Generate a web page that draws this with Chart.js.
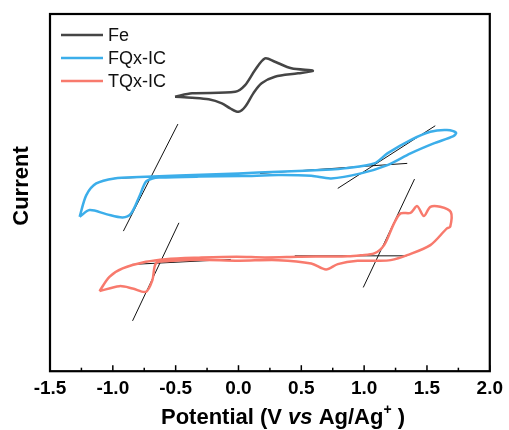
<!DOCTYPE html>
<html>
<head>
<meta charset="utf-8">
<script src="https://cdn.jsdelivr.net/npm/chart.js@4.4.1/dist/chart.umd.min.js"></script>
<style>
  html, body { margin: 0; padding: 0; background: #fff; }
  #wrap { width: 509px; height: 430px; position: relative; }
</style>
</head>
<body>
<div id="wrap"><canvas id="cv"></canvas></div>
<script>
const seriesNames = ['Fe', 'FQx-IC', 'TQx-IC'];
const seriesColors = ['#454545', '#3caeea', '#f87a6d'];

// x tick labels (V vs Ag/Ag+), every 0.5 with minor ticks in between
const xTickMin = -1.5;
const xTickMax = 2.0;
const xTickStep = 0.25;

// Fe (ferrocene) loop, current in arbitrary units
const feX = [-0.505, -0.369, -0.026, 0.053, 0.132, 0.211, 0.29, 0.421, 0.592,
             0.474, 0.29, 0.184, 0.118, 0.053, 0.0, -0.066, -0.132, -0.237, -0.369, -0.505];
const feY = [27.43, 27.77, 27.93, 28.6, 30.1, 31.27, 30.93, 30.27, 30.03,
             29.77, 29.43, 28.77, 27.77, 26.43, 25.93, 26.27, 26.77, 27.17, 27.33, 27.43];

// FQx-IC loop
const fqxX = [-1.264, -1.211, -1.132, -0.987, -0.79, -0.474, 0.0, 0.316, 0.735, 0.843, 1.08, 1.185, 1.369, 1.527, 1.659, 1.732,
              1.711, 1.554, 1.369, 1.185, 0.974, 0.737, 0.579, 0.316, 0.024, -0.316, -0.632, -0.685, -0.737, -0.79, -0.855, -0.922, -1.053, -1.185, -1.264];
const fqxY = [15.43, 17.6, 18.77, 19.27, 19.4, 19.55, 19.77, 19.93, 20.15, 20.27, 20.77, 21.77, 23.1, 23.93, 24.1, 23.83,
              23.5, 22.77, 21.77, 20.6, 19.77, 19.27, 19.53, 19.6, 19.5, 19.45, 19.35, 19.25, 18.93, 17.43, 15.77, 15.37, 15.7, 16.1, 15.43];

// TQx-IC loop
const tqxX = [-1.106, -1.027, -0.922, -0.737, -0.579, -0.316, -0.016, 0.211, 0.474, 0.869, 0.974, 1.08, 1.159, 1.238, 1.29, 1.369, 1.422, 1.475, 1.527, 1.606, 1.69,
              1.685, 1.659, 1.527, 1.343, 1.211, 1.106, 0.948, 0.79, 0.697, 0.579, 0.316, 0.0, -0.316, -0.579, -0.658, -0.685, -0.737, -0.843, -0.948, -1.106];
const tqxY = [8.0, 9.43, 10.27, 10.93, 11.2, 11.35, 11.45, 11.37, 11.43, 11.5, 11.6, 11.77, 12.6, 14.77, 15.77, 15.83, 16.5, 15.5, 16.43, 16.43, 15.9,
              14.43, 14.27, 12.6, 11.6, 11.1, 11.03, 11.03, 10.7, 10.17, 10.77, 11.1, 11.05, 11.15, 11.0, 10.77, 9.1, 7.93, 8.27, 8.5, 8.0];

// onset tangent lines, each [start, end]
const fqxFitX = [[-0.916, -0.482], [-0.993, 0.045], [0.171, 1.343], [0.79, 1.566]];
const fqxFitY = [[14.0, 24.7], [19.27, 19.77], [19.77, 20.77], [18.27, 24.53]];
const tqxFitX = [[-0.843, -0.474], [-0.848, -0.061], [0.448, 1.337], [0.993, 1.401]];
const tqxFitY = [[5.03, 14.83], [10.67, 11.17], [11.53, 11.53], [8.37, 19.2]];

const yMin = 0;
const yMax = 35.7;

function toPoints(xs, ys) {
    return xs.map((x, i) => ({ x: x, y: ys[i] }));
}

const datasets = [];
[[feX, feY], [fqxX, fqxY], [tqxX, tqxY]].forEach(([xs, ys], i) => {
    datasets.push({
        label: seriesNames[i],
        data: toPoints(xs, ys),
        borderColor: seriesColors[i],
        borderWidth: 2.5,
        pointRadius: 0,
        tension: 0.3,
        fill: false
    });
});

[[fqxFitX, fqxFitY], [tqxFitX, tqxFitY]].forEach(([xs, ys]) => {
    xs.forEach((seg, j) => {
        datasets.push({
            label: 'fit',
            data: toPoints(seg, ys[j]),
            borderColor: '#111',
            borderWidth: 1,
            pointRadius: 0,
            tension: 0
        });
    });
});

// frame, inward ticks, legend and axis titles
const decorations = {
    id: 'decorations',
    afterDraw(chart) {
        const { ctx, chartArea: a } = chart;
        const xs = chart.scales.x;
        ctx.save();

        ctx.strokeStyle = '#000';
        ctx.lineWidth = 1.5;
        xs.ticks.forEach(t => {
            const px = xs.getPixelForValue(t.value);
            const major = Math.abs(t.value * 2 - Math.round(t.value * 2)) < 1e-6;
            const len = major ? 6 : 3.5;
            ctx.beginPath();
            ctx.moveTo(px, a.bottom);
            ctx.lineTo(px, a.bottom - len);
            ctx.stroke();
        });

        ctx.lineWidth = 2.2;
        ctx.strokeRect(a.left, a.top, a.right - a.left, a.bottom - a.top);

        // legend
        ctx.font = '18px Arial, "Liberation Sans", sans-serif';
        ctx.textBaseline = 'middle';
        ctx.fillStyle = '#111';
        seriesNames.forEach((name, i) => {
            const y = a.top + 21 + i * 23;
            ctx.strokeStyle = seriesColors[i];
            ctx.lineWidth = 2.5;
            ctx.beginPath();
            ctx.moveTo(a.left + 11, y);
            ctx.lineTo(a.left + 53, y);
            ctx.stroke();
            ctx.fillText(name, a.left + 58, y + 1);
        });

        // y title
        ctx.save();
        ctx.translate(22, 186);
        ctx.rotate(-Math.PI / 2);
        ctx.font = 'bold 22px Arial, "Liberation Sans", sans-serif';
        ctx.textAlign = 'center';
        ctx.textBaseline = 'middle';
        ctx.fillStyle = '#000';
        ctx.fillText('Current', 0, 0);
        ctx.restore();

        // x title with italic "vs" and superscript +
        const base = 'bold 22px Arial, "Liberation Sans", sans-serif';
        const parts = [
            { t: 'Potential (V ', f: base, dy: 0 },
            { t: 'vs', f: 'italic ' + base, dy: 0 },
            { t: ' Ag/Ag', f: base, dy: 0 },
            { t: '+', f: 'bold 14px Arial, "Liberation Sans", sans-serif', dy: -10 },
            { t: ' )', f: base, dy: 0 }
        ];
        let total = 0;
        parts.forEach(p => { ctx.font = p.f; p.w = ctx.measureText(p.t).width; total += p.w; });
        let cx = 283 - total / 2;
        ctx.textBaseline = 'alphabetic';
        ctx.fillStyle = '#000';
        parts.forEach(p => {
            ctx.font = p.f;
            ctx.fillText(p.t, cx, 424 + p.dy);
            cx += p.w;
        });

        ctx.restore();
    }
};

new Chart(document.getElementById('cv'), {
    type: 'line',
    data: { datasets: datasets },
    options: {
        responsive: true,
        maintainAspectRatio: false,
        animation: false,
        layout: { padding: { left: 50, right: 16, top: 14, bottom: 24 } },
        plugins: {
            legend: { display: false },
            tooltip: { enabled: false }
        },
        scales: {
            x: {
                type: 'linear',
                min: xTickMin,
                max: xTickMax,
                grid: { display: false, drawTicks: false },
                border: { display: false },
                ticks: {
                    stepSize: xTickStep,
                    autoSkip: false,
                    maxRotation: 0,
                    minRotation: 0,
                    padding: 6,
                    color: '#000',
                    font: { family: 'Arial, "Liberation Sans", sans-serif', size: 19, weight: 'bold' },
                    callback: function(value) {
                        return Math.abs(value * 2 - Math.round(value * 2)) < 1e-6 ? value.toFixed(1) : '';
                    }
                }
            },
            y: {
                display: false,
                min: yMin,
                max: yMax
            }
        }
    },
    plugins: [decorations]
});
</script>
</body>
</html>
